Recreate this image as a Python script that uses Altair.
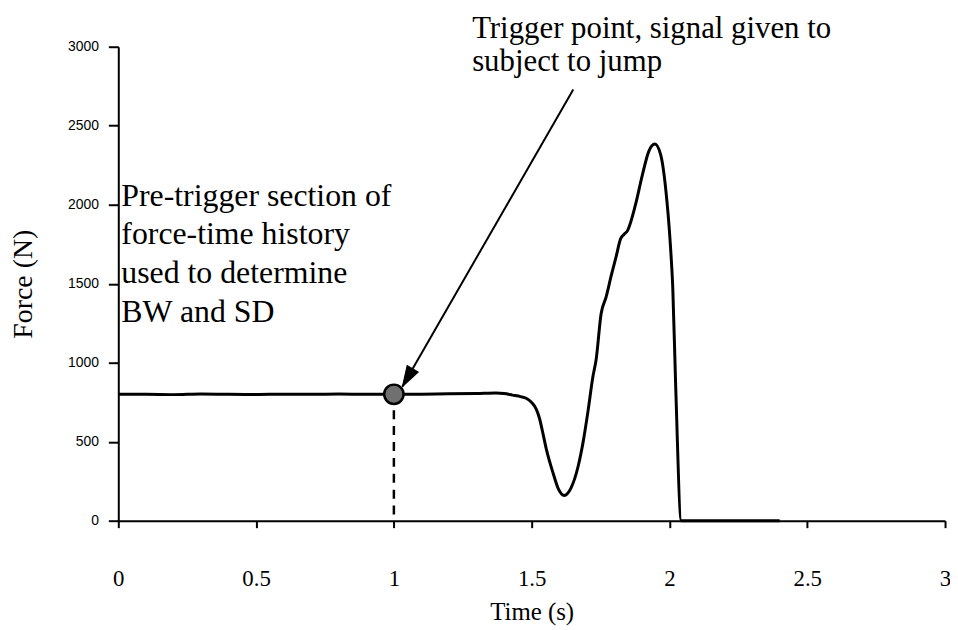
import altair as alt
import pandas as pd

# Force-time history
time_s = [0.00, 0.10, 0.20, 0.30, 0.40, 0.50, 0.60, 0.70, 0.80, 0.90, 1.00,
          1.10, 1.20, 1.30, 1.37, 1.40, 1.43, 1.46, 1.48, 1.50, 1.517, 1.528,
          1.540, 1.553, 1.578, 1.596, 1.618, 1.643, 1.668, 1.686, 1.705, 1.722,
          1.734, 1.752, 1.770, 1.790, 1.806, 1.823, 1.835, 1.847, 1.877, 1.902,
          1.925, 1.947, 1.968, 1.986, 2.004, 2.012, 2.022, 2.043, 2.10, 2.40]
force_n = [800, 800, 798, 802, 800, 799, 801, 800, 802, 800, 800,
           801, 803, 805, 808, 805, 795, 785, 775, 748, 705, 650,
           560, 455, 300, 205, 160, 208, 340, 491, 700, 910,
           1020, 1310, 1415, 1560, 1668, 1785, 1812, 1834, 2002, 2191,
           2338, 2384, 2317, 2107, 1728, 1476, 888, 0, 0, 0]

# Trigger point
trigger_time = [1.0]
trigger_force = [800]
trigger_base = [0]

# Arrow from the note to the trigger point
arrow_time = [1.651]
arrow_force = [2730]
arrow_tip_time = [1.031]
arrow_tip_force = [849]

# Notes
note_text = ["Trigger point, signal given to\nsubject to jump",
             "Pre-trigger section of\nforce-time history\nused to determine\nBW and SD"]
note_time = [1.284, 0.011]
note_force = [3057, 1994]

x_ticks = [0, 0.5, 1, 1.5, 2, 2.5, 3]
y_ticks = [0, 500, 1000, 1500, 2000, 2500, 3000]

serif = "Liberation Serif"

curve_df = pd.DataFrame({"time": time_s, "force": force_n})
trig_df = pd.DataFrame({"time": trigger_time, "force": trigger_force, "force0": trigger_base})
arrow_df = pd.DataFrame({"time": arrow_time, "force": arrow_force,
                         "time2": arrow_tip_time, "force2": arrow_tip_force})
tip_df = pd.DataFrame({"time": arrow_tip_time, "force": arrow_tip_force})
note_top_df = pd.DataFrame({"time": note_time[:1], "force": note_force[:1], "label": note_text[:1]})
note_left_df = pd.DataFrame({"time": note_time[1:], "force": note_force[1:], "label": note_text[1:]})

x_enc = alt.X("time:Q",
              scale=alt.Scale(domain=[0, 3], nice=False, zero=False),
              axis=alt.Axis(values=x_ticks, format="~g", title="Time (s)",
                            labelFont=serif, labelFontSize=23, labelFlush=False,
                            tickSize=7, labelPadding=40,
                            titleFont=serif, titleFontSize=25, titleFontWeight="normal",
                            titlePadding=9))
y_enc = alt.Y("force:Q",
              scale=alt.Scale(domain=[0, 3000], nice=False),
              axis=alt.Axis(values=y_ticks, format="d", title="Force (N)",
                            labelFont="Liberation Sans", labelFontSize=14,
                            tickSize=10, labelPadding=10,
                            titleFont=serif, titleFontSize=28, titleFontWeight="normal",
                            titlePadding=30))

curve = alt.Chart(curve_df).mark_line(color="black", strokeWidth=3, interpolate="monotone").encode(
    x=x_enc, y=y_enc)

dashed = alt.Chart(trig_df).mark_rule(color="black", strokeWidth=2.5, strokeDash=[9, 7]).encode(
    x=x_enc, y=y_enc, y2=alt.Y2("force0:Q"))

marker = alt.Chart(trig_df).mark_point(shape="circle", filled=True, fill="#707070",
                                       stroke="black", strokeWidth=2.5, size=380,
                                       opacity=1).encode(x=x_enc, y=y_enc)

shaft = alt.Chart(arrow_df).mark_rule(color="black", strokeWidth=2).encode(
    x=x_enc, y=y_enc, x2=alt.X2("time2:Q"), y2=alt.Y2("force2:Q"))

head = alt.Chart(tip_df).mark_point(shape="M0,0L-0.36,1.15L0.36,1.15Z", filled=True,
                                    fill="black", stroke="black", strokeWidth=1,
                                    size=1296, angle=210, opacity=1).encode(x=x_enc, y=y_enc)

note_top = alt.Chart(note_top_df).mark_text(
    align="left", baseline="alphabetic", font=serif, fontSize=31, lineHeight=34,
    lineBreak="\n", color="black").encode(x=x_enc, y=y_enc, text="label:N")

note_left = alt.Chart(note_left_df).mark_text(
    align="left", baseline="alphabetic", font=serif, fontSize=32, lineHeight=39,
    lineBreak="\n", color="black").encode(x=x_enc, y=y_enc, text="label:N")

chart = alt.layer(curve, dashed, shaft, head, marker, note_top, note_left).properties(
    width=832, height=477,
    autosize=alt.AutoSizeParams(type="none"),
    padding={"left": 111, "top": 37, "right": 5, "bottom": 104},
    background="white",
).configure_view(stroke=None).configure_axis(
    grid=False, domainColor="black", domainWidth=2, tickColor="black", tickWidth=2,
    labelColor="black", titleColor="black")

chart.save("out.html", embed_options={"renderer": "svg", "actions": False})
